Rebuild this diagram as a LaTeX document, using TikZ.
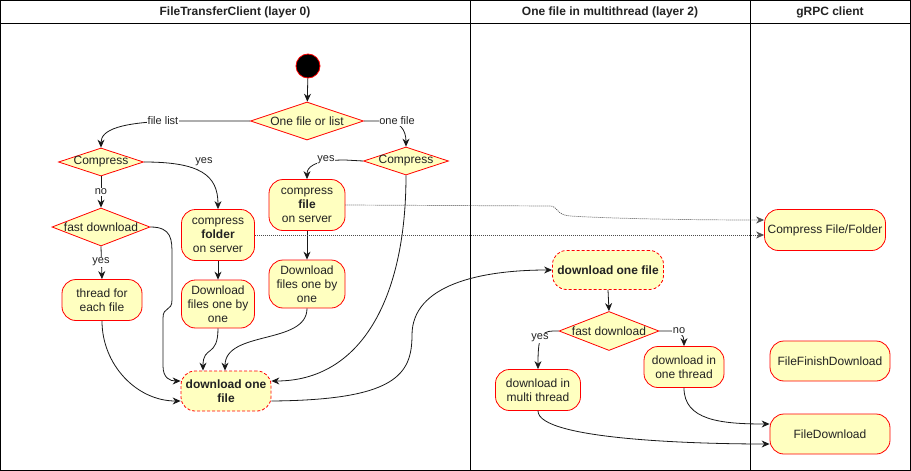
\documentclass[tikz,border=0pt]{standalone}
\usepackage{fontspec}
\setmainfont{Liberation Sans}
\usetikzlibrary{shapes.geometric,arrows.meta}
\definecolor{nodefill}{HTML}{FFFFC0}
\definecolor{nodeline}{HTML}{FF0000}
\definecolor{txt}{HTML}{222222}
\begin{document}
\begin{tikzpicture}[x=1pt,y=-1pt,
  act/.style={draw=nodeline,fill=nodefill,rounded corners=14pt,align=center,
    font=\fontsize{12}{14}\selectfont,text=txt,inner sep=1pt,line width=0.8pt},
  subact/.style={act,dash pattern=on 3pt off 2pt,font=\fontsize{12}{14}\selectfont\bfseries},
  dec/.style={diamond,draw=nodeline,fill=nodefill,inner sep=0pt,line width=0.8pt},
  dectxt/.style={text=txt,font=\fontsize{12}{14}\selectfont,inner sep=0pt},
  lbl/.style={fill=white,inner sep=0.5pt,font=\fontsize{11}{12}\selectfont,text=txt},
  arr/.style={-{Stealth[length=8pt,width=7pt]},line width=0.8pt,draw=black!90},
  dot/.style={-{Stealth[length=8pt,width=7pt]},line width=0.7pt,draw=black!70,dash pattern=on 1pt off 1pt},
  lane/.style={line width=0.8pt,draw=black},
  head/.style={font=\fontsize{12}{14}\selectfont\bfseries,text=txt}]
\useasboundingbox (0,0) rectangle (911,471);
% lanes
\draw[lane] (0.5,0.5) rectangle (910.5,470.5);
\draw[lane] (0.5,23.5) -- (910.5,23.5);
\draw[lane] (470.5,0.5) -- (470.5,470.5);
\draw[lane] (750.5,0.5) -- (750.5,470.5);
\node[head] (h1) at (235,12) {FileTransferClient (layer 0)};
\node[head] (h2) at (610,12) {One file in multithread (layer 2)};
\node[head] (h3) at (830,12) {gRPC client};
% nodes
\node[circle,fill=black,draw=nodeline,line width=0.8pt,minimum size=24pt,inner sep=0pt] (start) at (308,66) {};
\node[dec,minimum width=113pt,minimum height=38pt,label={[dectxt]center:One file or list}] (d1) at (307,121) {};
\node[dec,minimum width=85pt,minimum height=28pt,label={[dectxt]center:Compress}] (cl) at (101,162) {};
\node[dec,minimum width=85pt,minimum height=28pt,label={[dectxt]center:Compress}] (cr) at (406,161) {};
\node[dec,minimum width=98pt,minimum height=38pt,label={[dectxt]center:fast download}] (fd1) at (101,227) {};
\node[act,minimum width=73pt,minimum height=51pt] (cfo) at (218,235) {compress\\\textbf{folder}\\on server};
\node[act,minimum width=76pt,minimum height=51pt] (cfi) at (307,205) {compress\\\textbf{file}\\on server};
\node[act,minimum width=80pt,minimum height=41pt] (tfe) at (102,300) {thread for\\each file};
\node[act,minimum width=73pt,minimum height=48pt] (dfl) at (218,304) {Download\\files one by\\one};
\node[act,minimum width=76pt,minimum height=48pt] (dfr) at (307,284) {Download\\files one by\\one};
\node[subact,minimum width=90pt,minimum height=40pt] (dl1) at (226,391) {download one\\file};
\node[subact,minimum width=111pt,minimum height=39pt] (dl2) at (608,270) {download one file};
\node[dec,minimum width=100pt,minimum height=39pt,label={[dectxt]center:fast download}] (fd2) at (609,331) {};
\node[act,minimum width=85pt,minimum height=41pt] (dmt) at (538,390) {download in\\multi thread};
\node[act,minimum width=80pt,minimum height=41pt] (dot1) at (684,367) {download in\\one thread};
\node[act,minimum width=121pt,minimum height=41pt] (cff) at (825,230) {Compress File/Folder};
\node[act,minimum width=120pt,minimum height=40pt] (ffd) at (830,361) {FileFinishDownload};
\node[act,minimum width=120pt,minimum height=40pt] (fdl) at (830,434) {FileDownload};
% connectors
\draw[arr] (start) -- (d1);
\draw[arr] (d1.west) -- (175,121) .. controls (120,122) and (101,130) .. (cl.north);
\node[lbl] (l1) at (163,121) {file list};
\draw[arr] (d1.east) -- (385,121) .. controls (400,121) and (406,130) .. (cr.north);
\node[lbl] (l2) at (397,121) {one file};
\draw[arr] (cl.east) .. controls (200,162) and (218,175) .. (cfo.north);
\node[lbl] (l3) at (204,162) {yes};
\draw[arr] (cl.south) -- (fd1.north);
\node[lbl] (l4) at (101,192) {no};
\draw[arr] (fd1.south) -- (tfe.north);
\node[lbl] (l5) at (101,262) {yes};
\draw[arr] (fd1.east) .. controls (172,227) and (172,240) .. (172,255) -- (172,300)
  .. controls (172,312) and (163,306) .. (163,318) -- (163,366)
  .. controls (163,378) and (170,381) .. ([yshift=10pt]dl1.west);
\draw[arr] (tfe.south) to[out=-90,in=180] ([yshift=-10pt]dl1.west);
\draw[arr] (cfo.south) -- (dfl.north);
\draw[arr] (cfi.south) -- (dfr.north);
\draw[arr] (dfl.south) .. controls (218,358) and (203,345) .. ([xshift=-23pt]dl1.north);
\draw[arr] (dfr.south) .. controls (307,345) and (225,330) .. ([xshift=-1pt]dl1.north);
\draw[arr] (cr.south) .. controls (406,300) and (360,381) .. ([yshift=10pt]dl1.east);
\draw[arr] (cr.west) -- (345,160) .. controls (312,160) and (307,168) .. (cfi.north);
\node[lbl] (l6) at (326,160) {yes};
\draw[arr] ([yshift=-10pt]dl1.east) .. controls (395,400) and (412,375) .. (412,335)
  .. controls (412,285) and (480,270) .. (dl2.west);
\draw[dot] (cfi.east) -- (550,206) .. controls (558,206) and (556,215) .. (570,216)
  .. controls (620,219) and (700,220) .. ([yshift=10pt]cff.west);
\draw[dot] (cfo.east) -- ([yshift=-5pt]cff.west);
\draw[arr] (dl2.south) -- (fd2.north);
\draw[arr] (fd2.west) -- (553,331) .. controls (540,331) and (538,340) .. (dmt.north);
\node[lbl] (l7) at (540,338) {yes};
\draw[arr] (fd2.east) -- (670,331) .. controls (680,331) and (684,335) .. (dot1.north);
\node[lbl] (l8) at (679,331) {no};
\draw[arr] (dmt.south) .. controls (538,440) and (700,444) .. ([yshift=-10pt]fdl.west);
\draw[arr] (dot1.south) .. controls (684,420) and (720,424) .. ([yshift=10pt]fdl.west);
\end{tikzpicture}
\end{document}
